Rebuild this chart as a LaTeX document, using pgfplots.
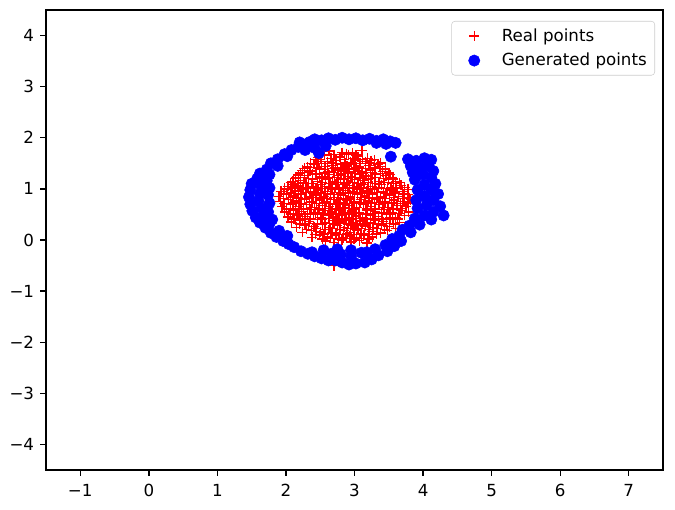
\documentclass[border=0pt]{standalone}
\usepackage{pgfplots}
\pgfplotsset{compat=1.18}
\usepackage{fontspec}
\setmainfont{DejaVu Sans}
\pgfplotsset{mylegimg/.style={legend image code/.code={\path (0cm,0cm) (1.10cm,0cm);\draw[mark repeat=2,mark phase=2,##1] plot coordinates {(0cm,0cm) (0.45cm,0cm) (1.10cm,0cm)};}}}
\begin{document}
\begin{tikzpicture}
\begin{axis}[
  scale only axis, width=462.75pt, height=345pt,
  xmin=-1.5, xmax=7.5, ymin=-4.5, ymax=4.5,
  xtick={-1,0,1,2,3,4,5,6,7}, xticklabels={−1,0,1,2,3,4,5,6,7},
  ytick={-4,-3,-2,-1,0,1,2,3,4}, yticklabels={−4,−3,−2,−1,0,1,2,3,4},
  tick align=outside, tick pos=left, major tick length=4.4pt,
  axis line style={line width=1pt},
  every tick/.style={black, line width=1pt},
  tick label style={font=\fontsize{12.5}{15}\selectfont},
  xticklabel style={yshift=-3pt},
  yticklabel style={xshift=-1pt},
  legend style={at={(1,1)}, anchor=north east, xshift=-6pt, yshift=-8.25pt,
    draw=black!20, rounded corners=2.5pt, font=\fontsize{12.5}{15}\selectfont,
    inner xsep=4pt, inner ysep=3.5pt, row sep=3.5pt},
  legend cell align=left,
]
\addplot[only marks, mark=+, color=red, mark size=3.75pt, mark options={solid, draw=red, line width=1.05pt}, mylegimg]
coordinates {
(2.63,1.74) (2.97,1.70) (3.11,1.75) (2.82,1.71)
(2.56,1.66) (2.79,1.62) (2.91,1.67) (3.05,1.63) (3.19,1.60) (2.47,1.61)
(2.44,1.57) (2.61,1.53) (2.73,1.56) (2.87,1.51) (3.01,1.55) (3.16,1.53) (3.29,1.57) (2.52,1.50) (3.38,1.51)
(2.31,1.43) (2.41,1.48) (2.57,1.44) (2.69,1.46) (2.82,1.42) (2.96,1.48) (3.07,1.43) (3.21,1.46) (3.37,1.44) (2.89,1.45)
(2.24,1.36) (2.35,1.35) (2.49,1.39) (2.61,1.33) (2.75,1.37) (2.85,1.35) (2.99,1.38) (3.11,1.33) (3.23,1.37) (3.41,1.34) (2.67,1.40) (3.05,1.36) (3.50,1.31)
(2.18,1.27) (2.27,1.26) (2.39,1.30) (2.53,1.24) (2.63,1.28) (2.76,1.26) (2.86,1.30) (2.95,1.24) (3.07,1.28) (3.17,1.25) (3.31,1.29) (3.46,1.26) (2.71,1.22) (2.91,1.20) (3.55,1.22)
(2.10,1.15) (2.21,1.16) (2.33,1.20) (2.46,1.14) (2.58,1.18) (2.68,1.15) (2.80,1.19) (2.90,1.13) (3.00,1.18) (3.12,1.16) (3.24,1.20) (3.36,1.14) (3.50,1.18) (3.60,1.14) (2.52,1.21) (3.05,1.11)
(2.03,1.05) (2.17,1.06) (2.29,1.10) (2.40,1.04) (2.51,1.08) (2.62,1.05) (2.73,1.09) (2.83,1.03) (2.93,1.07) (3.03,1.04) (3.14,1.09) (3.26,1.05) (3.39,1.08) (3.53,1.03) (3.68,1.07) (2.88,1.11) (3.19,1.01) (2.10,1.09)
(1.93,0.95) (2.02,0.99) (2.13,0.96) (2.25,1.00) (2.36,0.94) (2.47,0.98) (2.57,0.95) (2.67,0.99) (2.77,0.93) (2.87,0.97) (2.97,0.94) (3.07,0.99) (3.18,0.96) (3.29,1.00) (3.42,0.94) (3.56,0.98) (3.70,0.95) (3.78,0.99) (2.72,1.02) (3.12,0.91)
(1.90,0.85) (2.01,0.89) (2.11,0.86) (2.22,0.90) (2.34,0.84) (2.44,0.88) (2.55,0.85) (2.65,0.89) (2.75,0.83) (2.84,0.87) (2.94,0.84) (3.04,0.89) (3.15,0.86) (3.26,0.90) (3.38,0.84) (3.51,0.88) (3.64,0.85) (3.78,0.89) (2.60,0.81) (3.00,0.92)
(1.92,0.75) (2.04,0.79) (2.15,0.76) (2.27,0.80) (2.38,0.74) (2.49,0.78) (2.59,0.75) (2.69,0.79) (2.79,0.73) (2.89,0.77) (2.99,0.74) (3.09,0.79) (3.20,0.76) (3.32,0.80) (3.45,0.74) (3.58,0.78) (3.72,0.75) (3.82,0.79) (2.84,0.81) (3.25,0.71)
(1.94,0.65) (2.07,0.69) (2.19,0.66) (2.30,0.70) (2.42,0.64) (2.53,0.68) (2.63,0.65) (2.73,0.69) (2.83,0.63) (2.93,0.67) (3.03,0.64) (3.13,0.69) (3.24,0.66) (3.36,0.70) (3.49,0.64) (3.62,0.68) (3.75,0.65) (2.48,0.61) (3.08,0.72)
(1.98,0.55) (2.11,0.59) (2.23,0.56) (2.35,0.60) (2.46,0.54) (2.57,0.58) (2.67,0.55) (2.77,0.59) (2.87,0.53) (2.97,0.57) (3.07,0.54) (3.18,0.59) (3.30,0.56) (3.42,0.60) (3.55,0.54) (3.68,0.58) (3.79,0.55) (2.92,0.62)
(2.03,0.45) (2.16,0.49) (2.28,0.46) (2.40,0.50) (2.51,0.44) (2.62,0.48) (2.72,0.45) (2.82,0.49) (2.92,0.43) (3.02,0.47) (3.12,0.44) (3.23,0.49) (3.35,0.46) (3.47,0.50) (3.60,0.44) (3.73,0.48) (2.77,0.41)
(2.08,0.35) (2.21,0.39) (2.34,0.36) (2.46,0.40) (2.57,0.34) (2.68,0.38) (2.78,0.35) (2.88,0.39) (2.98,0.33) (3.08,0.37) (3.19,0.34) (3.30,0.39) (3.42,0.36) (3.55,0.40) (3.66,0.34) (2.63,0.42)
(2.15,0.25) (2.28,0.29) (2.41,0.26) (2.53,0.30) (2.64,0.24) (2.75,0.28) (2.85,0.25) (2.95,0.29) (3.05,0.23) (3.16,0.27) (3.27,0.24) (3.39,0.29) (3.51,0.26) (3.60,0.22)
(2.24,0.15) (2.37,0.19) (2.50,0.16) (2.62,0.20) (2.73,0.14) (2.84,0.18) (2.94,0.15) (3.04,0.19) (3.15,0.13) (3.26,0.17) (3.38,0.14) (3.48,0.19)
(2.38,0.05) (2.49,0.09) (2.61,0.06) (2.72,0.10) (2.83,0.04) (2.93,0.08) (3.03,0.05) (3.14,0.09) (3.26,0.06)
(2.58,-0.02) (2.70,-0.05) (2.82,0.00) (2.95,-0.04) (3.07,-0.01) (3.18,-0.06)
(2.70,-0.50)
(2.70,1.67) (2.88,1.69) (3.02,1.66)
(2.50,1.58) (2.66,1.60) (2.85,1.57) (2.98,1.59) (3.12,1.58) (3.24,1.55)
(2.36,1.50) (2.47,1.53) (2.67,1.51) (2.80,1.49) (2.94,1.52) (3.08,1.50) (3.22,1.51) (3.34,1.48)
(2.27,1.40) (2.45,1.42) (2.56,1.38) (2.72,1.41) (2.80,1.39) (2.92,1.40) (3.02,1.42) (3.16,1.40) (3.30,1.41) (3.45,1.39)
(2.21,1.31) (2.31,1.32) (2.44,1.29) (2.57,1.31) (2.70,1.32) (2.81,1.29) (2.90,1.33) (3.01,1.30) (3.12,1.31) (3.26,1.32) (3.38,1.30) (3.52,1.28)
(2.14,1.21) (2.27,1.22) (2.39,1.19) (2.49,1.23) (2.62,1.21) (2.75,1.22) (2.84,1.20) (2.97,1.22) (3.09,1.21) (3.20,1.19) (3.30,1.22) (3.42,1.20) (3.56,1.19)
(2.07,1.12) (2.18,1.10) (2.26,1.13) (2.38,1.11) (2.53,1.12) (2.64,1.10) (2.76,1.12) (2.85,1.09) (2.97,1.12) (3.09,1.10) (3.20,1.12) (3.31,1.10) (3.44,1.12) (3.57,1.10) (3.66,1.12)
(1.98,1.01) (2.09,1.02) (2.21,1.03) (2.32,1.01) (2.44,1.02) (2.56,1.01) (2.66,1.03) (2.78,1.00) (2.90,1.02) (2.99,1.01) (3.10,1.03) (3.23,1.01) (3.35,1.02) (3.48,1.01) (3.61,1.02) (3.73,1.03)
(1.96,0.91) (2.07,0.92) (2.18,0.91) (2.29,0.93) (2.40,0.91) (2.51,0.92) (2.61,0.91) (2.71,0.93) (2.80,0.90) (2.91,0.92) (3.09,0.93) (3.21,0.92) (3.33,0.93) (3.46,0.91) (3.59,0.92) (3.72,0.90)
(1.96,0.81) (2.07,0.83) (2.18,0.82) (2.30,0.81) (2.40,0.83) (2.52,0.82) (2.70,0.83) (2.80,0.80) (2.94,0.80) (3.10,0.83) (3.21,0.82) (3.33,0.83) (3.44,0.81) (3.57,0.83) (3.70,0.81) (3.80,0.83)
(1.97,0.71) (2.10,0.72) (2.22,0.71) (2.34,0.73) (2.45,0.71) (2.56,0.72) (2.65,0.71) (2.76,0.72) (2.86,0.70) (2.96,0.71) (3.16,0.72) (3.29,0.73) (3.41,0.71) (3.54,0.72) (3.67,0.71) (3.78,0.72)
(2.01,0.61) (2.14,0.62) (2.26,0.61) (2.37,0.63) (2.58,0.62) (2.68,0.61) (2.79,0.62) (2.98,0.61) (3.18,0.62) (3.30,0.61) (3.43,0.63) (3.56,0.61) (3.70,0.62)
(2.07,0.51) (2.19,0.52) (2.31,0.51) (2.43,0.53) (2.54,0.51) (2.65,0.52) (2.74,0.51) (2.85,0.52) (2.96,0.51) (3.06,0.52) (3.16,0.51) (3.27,0.52) (3.39,0.53) (3.52,0.51) (3.65,0.52)
(2.12,0.41) (2.24,0.42) (2.36,0.41) (2.52,0.41) (2.69,0.42) (2.86,0.42) (2.97,0.41) (3.08,0.42) (3.17,0.41) (3.28,0.42) (3.40,0.41) (3.52,0.43) (3.63,0.41)
(2.20,0.31) (2.33,0.32) (2.46,0.31) (2.58,0.32) (2.70,0.31) (2.80,0.32) (2.91,0.31) (3.02,0.32) (3.12,0.31) (3.23,0.32) (3.35,0.31) (3.47,0.32) (3.57,0.31)
(2.30,0.21) (2.44,0.22) (2.57,0.21) (2.68,0.22) (2.79,0.21) (2.90,0.22) (3.00,0.21) (3.10,0.22) (3.21,0.21) (3.33,0.22) (3.44,0.21)
(2.43,0.11) (2.55,0.12) (2.66,0.13) (2.78,0.11) (2.89,0.12) (2.99,0.11) (3.09,0.12) (3.20,0.11) (3.32,0.12)
(2.53,0.02) (2.65,0.03) (2.77,0.02) (2.88,0.03) (2.99,0.02) (3.10,0.03) (3.21,0.02)
};
\addlegendentry{Real points}
\addplot[only marks, mark=*, color=blue, mark size=4.25pt, mark options={solid, draw=blue, fill=blue}, mylegimg]
coordinates {
(2.42,1.97) (2.52,1.95) (2.62,1.99) (2.72,1.96) (2.82,2.00) (2.92,1.97) (3.02,1.99) (3.12,1.95) (3.22,1.98) (3.32,1.94) (3.42,1.97) (3.52,1.93) (3.60,1.90)
(2.42,1.80) (2.48,1.70) (2.58,1.84)
(3.53,1.63)
(3.78,1.58) (3.90,1.55) (4.02,1.60) (4.12,1.57) (3.82,1.45) (3.95,1.42) (4.08,1.45) (4.15,1.35) (3.85,1.32) (4.00,1.28) (4.12,1.22) (3.88,1.18) (4.18,1.10) (4.02,1.08) (3.92,0.98) (4.12,0.98) (4.22,0.90) (4.02,0.86) (3.90,0.78) (4.15,0.78) (4.05,0.68) (4.25,0.66) (3.92,0.62) (4.15,0.55) (4.30,0.48) (4.02,0.48) (3.88,0.42) (4.12,0.40) (3.95,0.30) (3.80,0.28) (3.70,0.20) (3.82,0.15) (3.65,0.08) (3.55,0.02) (3.68,-0.02) (3.58,-0.12) (3.45,-0.10) (3.48,-0.22)
(3.35,-0.30) (3.25,-0.38) (3.15,-0.44) (3.30,-0.18) (3.10,-0.25) (3.02,-0.46) (2.92,-0.48) (2.95,-0.32) (2.82,-0.44) (2.72,-0.40) (2.80,-0.28) (2.62,-0.40) (2.66,-0.27) (2.52,-0.36) (2.42,-0.32) (2.32,-0.27) (2.38,-0.24) (2.22,-0.22) (2.12,-0.14) (2.04,-0.08) (1.96,-0.02) (2.02,0.08) (1.86,0.06) (1.78,0.14) (1.90,0.18) (1.70,0.24) (1.62,0.34) (1.76,0.32) (1.56,0.44) (1.68,0.48) (1.51,0.57) (1.64,0.62) (1.48,0.70) (1.60,0.76) (1.46,0.84) (1.62,0.90) (1.48,0.98) (1.64,1.04) (1.50,1.10) (1.58,1.20) (1.72,1.16) (1.62,1.30) (1.76,1.28) (1.72,1.38) (1.78,1.50) (1.88,1.45) (1.88,1.58) (1.98,1.68) (2.08,1.76) (2.02,1.64) (2.18,1.82) (2.20,1.91) (2.30,1.88) (2.28,1.76)
(1.74,0.55) (1.76,0.72) (1.74,0.88) (1.76,1.02) (1.80,0.40)
(2.55,-0.20) (2.75,-0.18) (2.95,-0.20) (3.18,-0.24)
(3.32,1.90) (3.46,1.88) (2.35,1.92)
};
\addlegendentry{Generated points}
\end{axis}
\pgfresetboundingbox
\path (current axis.south west) ++(-34.5pt,-29.25pt) coordinate (bl);
\path (current axis.north east) ++(9pt,7.5pt) coordinate (tr);
\useasboundingbox (bl) rectangle (tr);
\end{tikzpicture}
\end{document}
